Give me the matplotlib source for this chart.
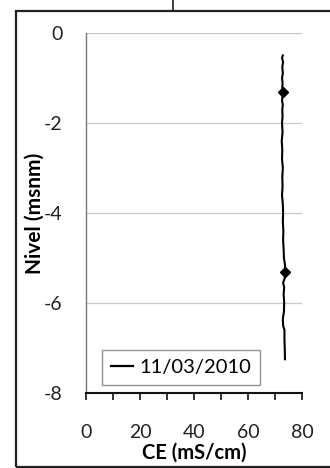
import matplotlib
matplotlib.use("Agg")
import matplotlib.pyplot as plt
from matplotlib.patches import Rectangle
from matplotlib.lines import Line2D
from matplotlib.ticker import MultipleLocator

plt.rcParams["font.family"] = ["Lato", "DejaVu Sans"]
plt.rcParams["axes.unicode_minus"] = False

# perfil CE vs nivel
nivel = [-0.50, -0.55, -0.65, -0.75, -0.90, -1.00, -1.10, -1.20, -1.30, -1.40,
         -1.50, -1.60, -1.70, -1.85, -2.00, -2.20, -2.40, -2.60, -2.80, -3.00,
         -3.20, -3.40, -3.60, -3.80, -4.00, -4.20, -4.40, -4.60, -4.80, -5.00,
         -5.15, -5.30, -5.45, -5.55, -5.65, -5.80, -6.00, -6.20, -6.35, -6.50,
         -6.60, -6.80, -7.00, -7.25]
ce = [72.9, 72.6, 73.0, 72.7, 72.9, 72.6, 72.8, 72.7, 73.0, 72.8,
      72.6, 72.9, 72.7, 72.8, 72.6, 72.8, 72.5, 72.7, 72.6, 72.9,
      72.7, 72.8, 72.6, 72.9, 73.0, 72.9, 73.1, 73.0, 73.2, 73.3,
      73.7, 73.8, 73.6, 73.0, 73.4, 73.2, 73.4, 73.3, 72.9, 73.0,
      73.5, 73.5, 73.6, 73.7]
# puntos marcados
marca_nivel = [-1.30, -5.30]
marca_ce = [73.0, 73.8]
serie = "11/03/2010"

fig = plt.figure(figsize=(3.3, 4.68), dpi=100)
ax = fig.add_axes([86/330, 75/468, 216/330, 360/468])

ax.plot(ce, nivel, color="black", lw=1.5, label=serie)
ax.plot(marca_ce, marca_nivel, ls="none", marker="D", ms=5, color="black")

ax.set_xlim(0, 80)
ax.set_ylim(-8, 0)
ax.xaxis.set_major_locator(MultipleLocator(20))
ax.xaxis.set_minor_locator(MultipleLocator(10))
ax.yaxis.set_major_locator(MultipleLocator(2))
ax.grid(axis="y", color="#c8c8c8", lw=0.9)
ax.set_axisbelow(True)

for s in ("top", "right"):
    ax.spines[s].set_visible(False)
ax.spines["left"].set_color("#777777")
ax.spines["left"].set_linewidth(1.0)
ax.spines["bottom"].set_color("#111111")
ax.spines["bottom"].set_linewidth(1.5)

ax.tick_params(axis="x", which="both", direction="out", length=5, width=1.2,
               color="#111111", labelsize=14, pad=17, labelcolor="#222222")
ax.tick_params(axis="y", length=0, labelsize=14, pad=17, labelcolor="#222222")

ax.set_xlabel("CE (mS/cm)", fontsize=14.5, fontweight="bold", va="center")
ax.xaxis.set_label_coords(0.5, -0.165)
ax.set_ylabel("Nivel (msnm)", fontsize=15, fontweight="bold", va="center")
ax.yaxis.set_label_coords(-0.236, 0.5)

leg = ax.legend(handles=[Line2D([], [], color="black", lw=1.6)], labels=[serie],
                loc="lower left", bbox_to_anchor=(102/330, 83/468, 0.1, 0.1),
                bbox_transform=fig.transFigure, fontsize=14.5, frameon=True,
                fancybox=False, handlelength=1.1, handletextpad=0.3,
                borderpad=0.45, borderaxespad=0)
leg.get_frame().set_edgecolor("#777777")
leg.get_frame().set_linewidth(1.0)

# marco exterior y línea superior
fig.add_artist(Rectangle((16/330, 1/468), 1.2, 456/468, transform=fig.transFigure,
                         fill=False, edgecolor="#222222", lw=1.6))
fig.add_artist(Line2D([173/330, 173/330], [457/468, 1.0], transform=fig.transFigure,
                      color="#222222", lw=1.2))

fig.savefig("out.png", dpi=100)
